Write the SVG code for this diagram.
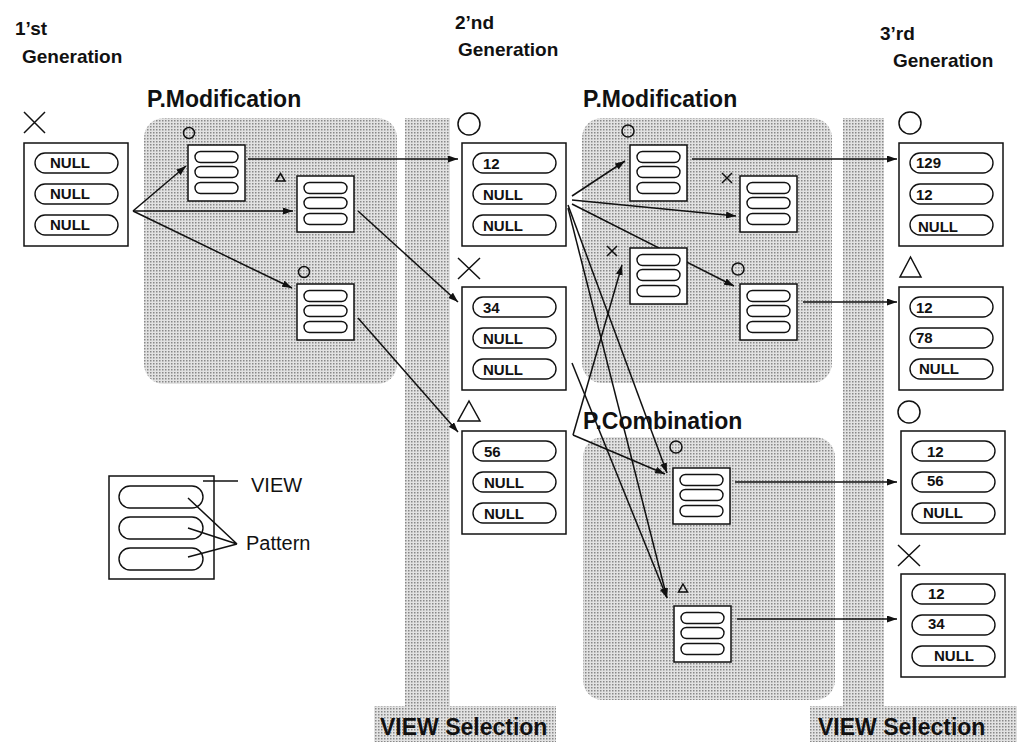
<svg xmlns="http://www.w3.org/2000/svg" xmlns:xlink="http://www.w3.org/1999/xlink" width="1017" height="742" viewBox="0 0 1017 742">
<defs>
<pattern id="dots" width="3" height="3" patternUnits="userSpaceOnUse"><rect width="3" height="3" fill="#e2e2e2"/><rect width="1.5" height="1.5" fill="#888"/></pattern>
<marker id="arr" markerUnits="userSpaceOnUse" markerWidth="10" markerHeight="7" refX="10" refY="3.5" orient="auto"><path d="M0,0 L10,3.5 L0,7 z" fill="#111"/></marker>
<g id="mini">
<rect x="0" y="0" width="57" height="56" fill="#fff" stroke="#111" stroke-width="1.5"/>
<rect x="7" y="6.5" width="43" height="11" rx="5.5" fill="#fff" stroke="#111" stroke-width="1.4"/>
<rect x="7" y="21.5" width="43" height="11" rx="5.5" fill="#fff" stroke="#111" stroke-width="1.4"/>
<rect x="7" y="37.5" width="43" height="11" rx="5.5" fill="#fff" stroke="#111" stroke-width="1.4"/>
</g>
<g id="big">
<rect x="0" y="0" width="104" height="103" fill="#fff" stroke="#111" stroke-width="1.5"/>
<rect x="11" y="10" width="83" height="20" rx="10" fill="#fff" stroke="#111" stroke-width="1.4"/>
<rect x="11" y="41" width="83" height="20" rx="10" fill="#fff" stroke="#111" stroke-width="1.4"/>
<rect x="11" y="72" width="83" height="20" rx="10" fill="#fff" stroke="#111" stroke-width="1.4"/>
</g>
</defs>
<style>
.hdr{font-family:"Liberation Sans",Arial,sans-serif;font-weight:bold;font-size:19px;fill:#111}
.ttl{font-family:"Liberation Sans",Arial,sans-serif;font-weight:bold;font-size:23px;fill:#111}
.pt{font-family:"Liberation Sans",Arial,sans-serif;font-weight:bold;font-size:15px;fill:#111}
.lg{font-family:"Liberation Sans",Arial,sans-serif;font-size:20px;fill:#111}
.mk{fill:none;stroke:#111;stroke-width:1.5}
.cn{fill:none;stroke:#111;stroke-width:1.5}
.shade{fill:url(#dots)}
</style>
<rect width="1017" height="742" fill="#fff"/>

<g id="regions">
<rect class="shade" x="144" y="118" width="253" height="266" rx="20"/>
<rect class="shade" x="582" y="118" width="250" height="265" rx="20"/>
<rect class="shade" x="583" y="437" width="252" height="263" rx="20"/>
<rect class="shade" x="405" y="118" width="45" height="590"/>
<rect class="shade" x="374" y="706" width="182" height="36"/>
<rect class="shade" x="843" y="118" width="41" height="590"/>
<rect class="shade" x="810" y="706" width="207" height="36"/>
</g>

<g id="labels">
<text class="hdr" x="15" y="35">1’st</text>
<text class="hdr" x="22" y="63">Generation</text>
<text class="hdr" x="455" y="29">2’nd</text>
<text class="hdr" x="458" y="56">Generation</text>
<text class="hdr" x="880" y="40">3’rd</text>
<text class="hdr" x="893" y="67">Generation</text>
<text class="ttl" x="147" y="107">P.Modification</text>
<text class="ttl" x="583" y="107">P.Modification</text>
<text class="ttl" x="583" y="429">P.Combination</text>
<text class="ttl" x="380" y="735">VIEW Selection</text>
<text class="ttl" x="818" y="735">VIEW Selection</text>
</g>

<g id="connectors">
<path class="cn" marker-end="url(#arr)" d="M133,211 L186,166"/>
<path class="cn" marker-end="url(#arr)" d="M133,211 L293,211"/>
<path class="cn" marker-end="url(#arr)" d="M133,211 L292,288"/>
<path class="cn" marker-end="url(#arr)" d="M248,159 L458,159"/>
<path class="cn" marker-end="url(#arr)" d="M358,211 L458,302"/>
<path class="cn" marker-end="url(#arr)" d="M358,318 L458,432"/>
<path class="cn" marker-end="url(#arr)" d="M572,196 L625,161"/>
<path class="cn" marker-end="url(#arr)" d="M572,200 L736,216"/>
<path class="cn" marker-end="url(#arr)" d="M572,204 L734,286"/>
<path class="cn" marker-end="url(#arr)" d="M568,205 L667,473"/>
<path class="cn" marker-end="url(#arr)" d="M568,208 L667,598"/>
<path class="cn" marker-end="url(#arr)" d="M572,363 L667,598"/>
<path class="cn" marker-end="url(#arr)" d="M573,435 L622,265"/>
<path class="cn" marker-end="url(#arr)" d="M573,435 L665,474"/>
<path class="cn" marker-end="url(#arr)" d="M692,159 L897,159"/>
<path class="cn" marker-end="url(#arr)" d="M803,302 L897,302"/>
<path class="cn" marker-end="url(#arr)" d="M735,482 L897,482"/>
<path class="cn" marker-end="url(#arr)" d="M737,619 L897,619"/>
</g>

<g id="gen1">
<path class="mk" d="M24,112 L45,133 M45,112 L24,133"/>
<use href="#big" x="24" y="143"/>
<text class="pt" x="50" y="168">NULL</text>
<text class="pt" x="50" y="199">NULL</text>
<text class="pt" x="50" y="230">NULL</text>
</g>

<g id="modA">
<circle class="mk" cx="189" cy="133" r="5.5"/>
<use href="#mini" x="188" y="145"/>
</g>
<g id="modB">
<path class="mk" d="M280.5,173.5 L285,181 L276,181 Z"/>
<use href="#mini" x="297" y="176"/>
</g>
<g id="modC">
<circle class="mk" cx="304" cy="272" r="5.5"/>
<use href="#mini" x="297" y="284"/>
</g>

<g id="gen2a">
<circle class="mk" cx="469" cy="124" r="11"/>
<use href="#big" x="462" y="143"/>
<text class="pt" x="483" y="169">12</text>
<text class="pt" x="483" y="200">NULL</text>
<text class="pt" x="483" y="231">NULL</text>
</g>
<g id="gen2b">
<path class="mk" d="M458,258 L480,279 M480,258 L458,279"/>
<use href="#big" x="462" y="287"/>
<text class="pt" x="483" y="313">34</text>
<text class="pt" x="483" y="344">NULL</text>
<text class="pt" x="483" y="375">NULL</text>
</g>
<g id="gen2c">
<path class="mk" d="M469,401 L480,421 L458,421 Z"/>
<use href="#big" x="462" y="431"/>
<text class="pt" x="484" y="457">56</text>
<text class="pt" x="484" y="488">NULL</text>
<text class="pt" x="484" y="519">NULL</text>
</g>

<g id="modD">
<circle class="mk" cx="628" cy="131" r="6"/>
<use href="#mini" x="630" y="145"/>
</g>
<g id="modE">
<path class="mk" d="M722,173 L732,183 M732,173 L722,183"/>
<use href="#mini" x="740" y="176"/>
</g>
<g id="modF">
<path class="mk" d="M607,246 L617,256 M617,246 L607,256"/>
<use href="#mini" x="630" y="248"/>
</g>
<g id="modG">
<circle class="mk" cx="738" cy="269" r="6"/>
<use href="#mini" x="740" y="284"/>
</g>

<g id="combH">
<circle class="mk" cx="676" cy="447" r="6"/>
<use href="#mini" x="673" y="468"/>
</g>
<g id="combI">
<path class="mk" d="M683,584 L687.5,592 L678.5,592 Z"/>
<use href="#mini" x="674" y="606"/>
</g>

<g id="gen3a">
<circle class="mk" cx="910" cy="123" r="11"/>
<use href="#big" x="899" y="143"/>
<text class="pt" x="916" y="168">129</text>
<text class="pt" x="916" y="200">12</text>
<text class="pt" x="918" y="232">NULL</text>
</g>
<g id="gen3b">
<path class="mk" d="M910.5,257 L921,277 L900,277 Z"/>
<use href="#big" x="899" y="287"/>
<text class="pt" x="916" y="313">12</text>
<text class="pt" x="916" y="343">78</text>
<text class="pt" x="919" y="374">NULL</text>
</g>
<g id="gen3c">
<circle class="mk" cx="909" cy="412" r="11"/>
<use href="#big" x="901" y="431"/>
<text class="pt" x="927" y="457">12</text>
<text class="pt" x="927" y="486">56</text>
<text class="pt" x="923" y="518">NULL</text>
</g>
<g id="gen3d">
<path class="mk" d="M898,545 L920,566 M920,545 L898,566"/>
<use href="#big" x="901" y="574"/>
<text class="pt" x="928" y="599">12</text>
<text class="pt" x="928" y="629">34</text>
<text class="pt" x="934" y="661">NULL</text>
</g>

<g id="legend">
<rect x="109" y="476" width="105" height="103" fill="#fff" stroke="#111" stroke-width="1.5"/>
<rect x="119" y="486" width="84" height="22" rx="11" fill="#fff" stroke="#111" stroke-width="1.4"/>
<rect x="119" y="517" width="84" height="22" rx="11" fill="#fff" stroke="#111" stroke-width="1.4"/>
<rect x="119" y="548" width="84" height="22" rx="11" fill="#fff" stroke="#111" stroke-width="1.4"/>
<path class="cn" d="M203,481 L238,481"/>
<path class="cn" d="M237,544 L188,498 M237,544 L188,528 M237,544 L188,557"/>
<text class="lg" x="251" y="492">VIEW</text>
<text class="lg" x="246" y="550">Pattern</text>
</g>
</svg>
